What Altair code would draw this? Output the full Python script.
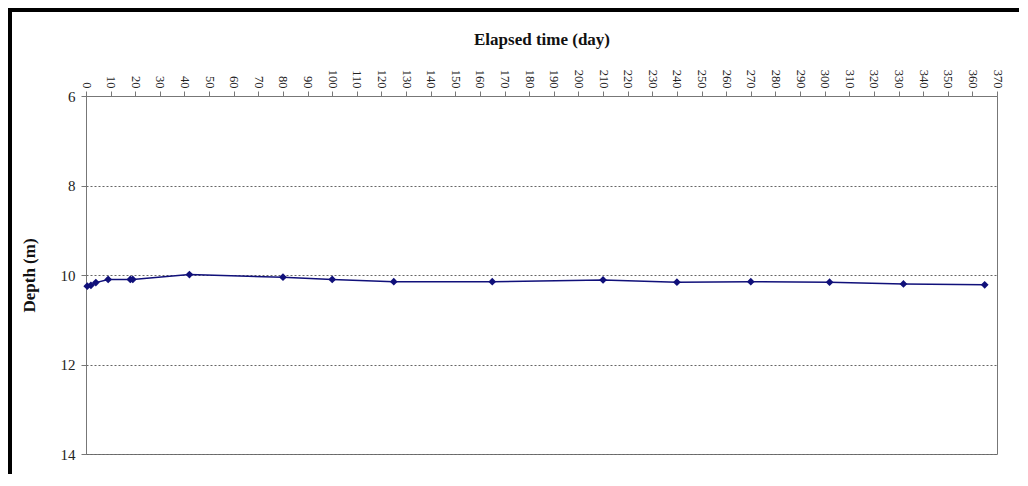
import altair as alt
import pandas as pd

days = [0.5, 2, 4, 9, 18, 19, 42, 80, 100, 125, 165, 210, 240, 270, 302, 332, 365]
depth = [10.25, 10.23, 10.17, 10.10, 10.10, 10.10, 9.99, 10.05, 10.10, 10.15, 10.15, 10.11, 10.16, 10.15, 10.16, 10.20, 10.22]
x_ticks = list(range(0, 371, 10))
y_ticks = [6, 8, 10, 12, 14]

df = pd.DataFrame({"day": days, "depth": depth})

serif = "Liberation Serif"

x_enc = alt.X(
    "day:Q",
    scale=alt.Scale(domain=[0, 370], nice=False, zero=False),
    axis=alt.Axis(
        orient="top", values=x_ticks, title="Elapsed time (day)",
        labelAngle=90, labelAlign="right", labelBaseline="middle",
        labelFont=serif, labelFontSize=12.5, labelColor="#222",
        titleFont=serif, titleFontSize=17, titleFontWeight="bold", titleColor="#111",
        titlePadding=21, tickSize=5, tickColor="#777", domainColor="#777",
        labelPadding=3, grid=False, labelOverlap=False, labelBound=False, labelFlush=False,
    ),
)
y_enc = alt.Y(
    "depth:Q",
    scale=alt.Scale(domain=[6, 14], reverse=True, nice=False, zero=False),
    axis=alt.Axis(
        values=y_ticks, title="Depth (m)",
        labelFont=serif, labelFontSize=15, labelColor="#222",
        titleFont=serif, titleFontSize=17, titleFontWeight="bold", titleColor="#111",
        titlePadding=22, tickSize=5, tickColor="#777", domainColor="#777",
        labelPadding=6, grid=True, gridColor="#666", gridDash=[2, 2], gridWidth=1,
    ),
)

base = alt.Chart(df).encode(x=x_enc, y=y_enc)
line = base.mark_line(color="#10107a", strokeWidth=1.5)
pts = base.mark_point(shape="diamond", filled=True, color="#10107a", size=60, opacity=1)

frame_top = alt.Chart(df).mark_rule(color="black", strokeWidth=3.5, clip=False).encode(
    x=alt.value(-76), x2=alt.value(980), y=alt.value(-86)
)
frame_left = alt.Chart(df).mark_rule(color="black", strokeWidth=3.5, clip=False).encode(
    x=alt.value(-76), y=alt.value(-87.5), y2=alt.value(400)
)

chart = alt.layer(line, pts, frame_top, frame_left).properties(
    width=911, height=358,
    autosize=alt.AutoSizeParams(type="none"),
    padding={"left": 78, "top": 88, "right": 22, "bottom": 20},
    background="white",
).configure_view(stroke="#777", strokeWidth=1)

chart.save("out.html", embed_options={"renderer": "svg", "actions": False})
